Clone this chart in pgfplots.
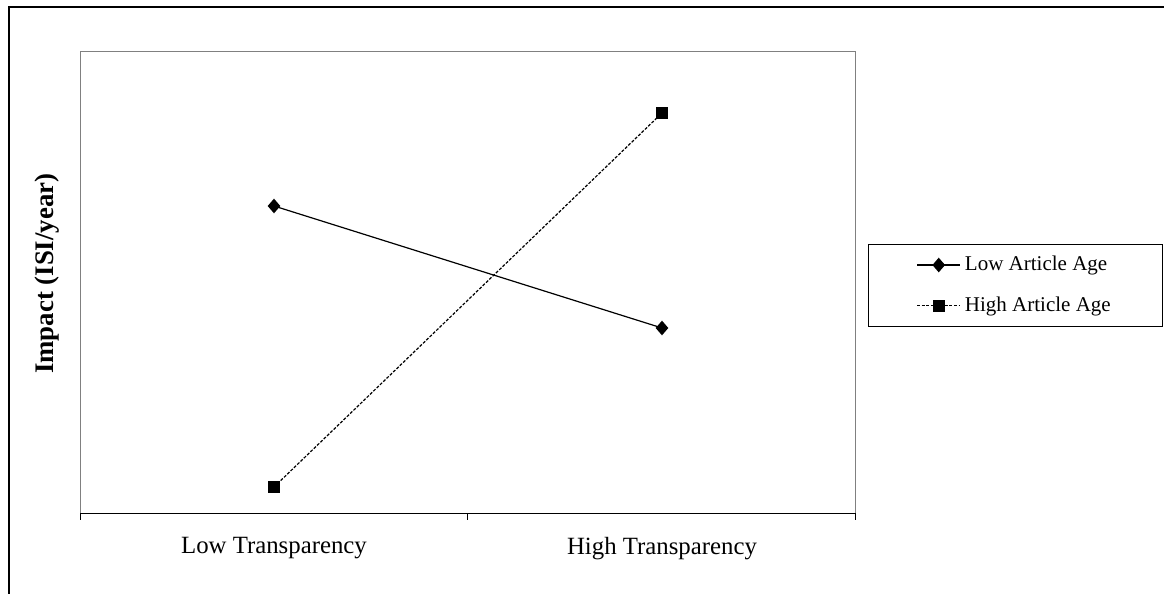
\documentclass[border=0pt]{standalone}
\usepackage{pgfplots}
\pgfplotsset{compat=1.18}
\usepackage{fontspec}
\setmainfont{Liberation Serif}

\begin{document}
\begin{tikzpicture}
% page = 1164 x 594 px at 0.5pt per px
\useasboundingbox (0,0) rectangle (582pt,297pt);
% outer chart frame (cut at right and bottom in the reference)
\draw[line width=1.1pt] (4.5pt,0) -- (4.5pt,293.5pt) -- (582pt,293.5pt);

\begin{axis}[
    at={(40pt,40pt)}, anchor=south west,
    scale only axis,
    width=388pt, height=231pt,
    xmin=0, xmax=2, ymin=0, ymax=462,
    axis line style={gray, line width=0.5pt},
    xtick={0,1,2}, xticklabels={},
    ytick=\empty,
    tick style={black, line width=0.5pt},
    xtick pos=bottom,
    tick align=outside,
    major tick length=3pt,
    extra x ticks={0.5,1.5},
    extra x tick labels={Low Transparency, High Transparency},
    extra x tick style={major tick length=0pt},
    xticklabel style={font=\fontsize{12.4}{14}\selectfont, yshift=-8pt},
    ylabel={\textbf{Impact (ISI/year)}},
    every axis y label/.style={at={(axis description cs:0,0.52)}, rotate=90,
        anchor=center, yshift=16.5pt, font=\fontsize{13.4}{15}\selectfont},
    legend style={at={(1.0155,0.495)}, anchor=west, draw=black,
        line width=0.5pt, font=\fontsize{10.5}{12}\selectfont,
        inner xsep=24pt, inner ysep=4pt, row sep=7.5pt},
    legend cell align=left,
    legend image code/.code={\draw[mark repeat=2,mark phase=2,#1]
        plot coordinates {(0cm,0cm) (0.38cm,0cm) (0.76cm,0cm)};},
]
\addplot[black, line width=0.6pt, mark=diamond*, mark size=3.2pt,
    mark options={solid, xscale=1.15}] coordinates {(0.5,308) (1.5,186)};
\addlegendentry{Low Article Age}
\addplot[black, line width=0.6pt, dash pattern=on 1.5pt off 0.8pt,
    mark=square*, mark size=2.7pt, mark options={solid}]
    coordinates {(0.5,27) (1.5,401)};
\addlegendentry{High Article Age}
\draw[black, line width=0.5pt] (rel axis cs:0,0) -- (rel axis cs:1,0);
\end{axis}
\end{tikzpicture}
\end{document}
